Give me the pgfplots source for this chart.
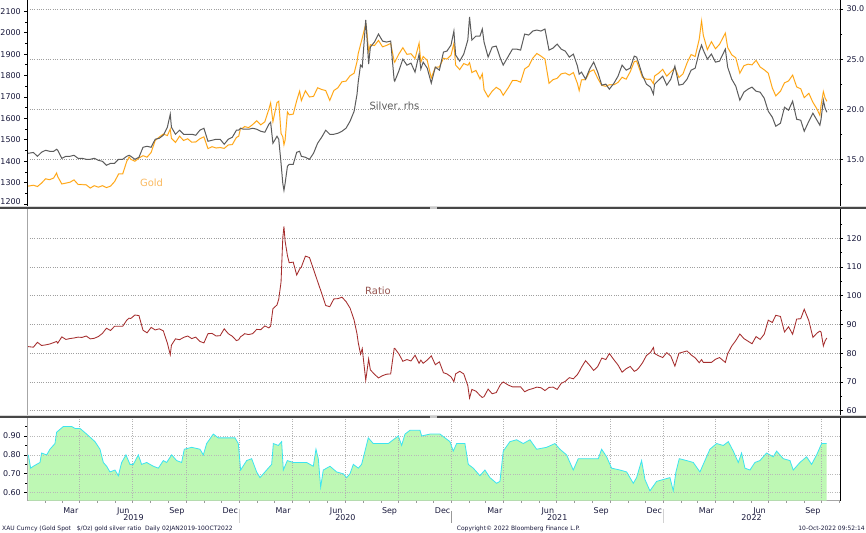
\documentclass[border=0pt]{standalone}
\usepackage{pgfplots}
\pgfplotsset{compat=1.18}
\usepackage{pgfplotstable}
\usepackage{fontspec}
\setmainfont{DejaVu Sans}
\definecolor{goldc}{RGB}{255,160,0}
\definecolor{goldl}{RGB}{255,222,170}
\definecolor{goldlab}{RGB}{250,185,95}
\definecolor{silc}{RGB}{92,92,92}
\definecolor{ratc}{RGB}{165,45,45}
\definecolor{ratlab}{RGB}{150,85,80}
\definecolor{corrl}{RGB}{60,228,240}
\definecolor{corrf}{RGB}{190,248,180}
\definecolor{tickc}{RGB}{25,25,60}
\newcommand\tickfont{\fontsize{8}{9}\selectfont}
\newcommand\labfont{\fontsize{10}{11}\selectfont}
\newcommand\footfont{\fontsize{6}{7}\selectfont}
\tikzset{gridst/.style={dash pattern=on 1bp off 1.3bp, line width=0.6bp, gray!75}}

\pgfplotstableread{
d g s r
1 1284 15.60 82.3
10 1288 15.68 82.1
17 1282 15.30 83.8
24 1298 15.70 82.7
31 1318 15.90 82.9
38 1314 15.80 83.2
45 1322 15.80 83.7
50 1345 16.00 84.1
52 1328 15.90 83.5
59 1294 15.10 85.7
66 1298 15.30 84.8
73 1302 15.30 85.1
80 1313 15.40 85.3
87 1292 15.10 85.6
94 1291 15.10 85.5
101 1290 15.00 86.0
108 1275 15.00 85.0
115 1286 15.10 85.2
122 1279 14.90 85.8
129 1286 14.80 86.9
136 1277 14.40 88.7
143 1284 14.60 87.9
150 1305 14.60 89.4
157 1341 15.00 89.4
164 1341 15.00 89.4
171 1400 15.30 91.5
175 1420 15.40 92.2
178 1409 15.30 92.1
185 1400 15.00 93.3
192 1415 15.20 93.1
199 1426 16.20 88.0
206 1419 16.30 87.1
213 1441 16.20 89.0
220 1497 17.00 88.1
227 1513 17.10 88.5
234 1527 17.40 87.8
241 1520 18.20 83.5
246 1550 19.50 79.5
248 1507 18.20 82.8
255 1488 17.50 85.0
262 1517 17.90 84.7
269 1497 17.50 85.5
276 1505 17.50 86.0
283 1489 17.50 85.1
290 1490 17.40 85.6
297 1505 17.90 84.1
304 1514 18.10 83.6
311 1459 16.80 86.8
318 1468 16.90 86.9
325 1462 17.00 86.0
332 1464 17.00 86.1
339 1460 16.50 88.5
346 1476 17.00 86.8
353 1478 17.20 85.9
360 1511 17.90 84.4
364 1517 17.90 84.7
367 1552 18.10 85.7
372 1556 18.00 86.4
374 1562 18.00 86.8
381 1557 18.00 86.5
388 1571 18.10 86.8
395 1589 18.00 88.3
402 1570 17.80 88.2
409 1584 17.70 89.5
416 1643 18.50 88.8
419 1672 18.70 89.4
423 1585 16.60 95.5
430 1674 17.30 96.8
433 1680 17.00 98.8
437 1530 14.60 104.8
440 1514 12.60 120.2
442 1477 11.90 124.1
444 1499 12.60 119.0
448 1630 14.30 114.0
451 1617 14.50 111.5
458 1620 14.50 111.7
464 1683 15.70 107.2
469 1727 15.80 109.3
472 1683 15.30 110.0
479 1729 15.20 113.8
486 1700 15.00 113.3
493 1703 15.60 109.2
500 1743 16.60 105.0
507 1735 17.20 100.9
514 1730 17.90 96.6
521 1684 17.50 96.2
528 1730 17.50 98.9
535 1743 17.60 99.0
542 1771 17.80 99.5
549 1774 18.10 98.0
556 1799 18.80 95.7
563 1811 19.80 91.5
568 1865 21.50 86.7
570 1902 22.70 83.8
574 1944 24.40 79.7
577 1975 24.20 81.6
583 2040 28.90 70.6
584 2030 28.20 72.0
588 1912 24.50 78.0
591 1944 26.20 74.2
598 1940 26.70 72.7
605 1964 27.50 71.4
612 1934 26.80 72.2
619 1941 26.70 72.7
626 1950 26.80 72.8
632 1868 22.90 81.6
633 1862 22.80 81.7
640 1900 23.80 79.8
647 1930 25.00 77.2
654 1899 24.40 77.8
661 1902 24.60 77.3
668 1879 23.70 79.3
675 1951 25.50 76.5
678 1862 24.00 77.6
682 1889 24.70 76.5
689 1871 24.10 77.6
696 1788 22.60 79.1
703 1839 24.20 76.0
710 1840 23.90 77.0
717 1881 25.70 73.2
723 1877 25.80 72.8
730 1895 26.40 71.8
735 1950 27.80 70.1
738 1849 25.40 72.8
745 1828 24.80 73.7
752 1856 25.50 72.8
759 1848 26.90 68.7
762 1860 29.20 64.4
766 1814 26.90 67.4
773 1824 27.30 66.8
780 1784 27.30 65.3
784 1808 28.00 64.6
787 1734 26.70 64.9
794 1700 25.20 67.5
801 1727 26.20 65.9
808 1745 26.30 66.3
815 1733 25.10 69.0
820 1708 24.40 70.0
829 1744 25.30 68.9
836 1777 26.00 68.3
843 1777 26.00 68.3
850 1769 25.90 68.3
857 1831 27.50 66.6
864 1844 27.40 67.3
871 1881 27.80 67.7
878 1903 27.90 68.2
885 1891 27.80 68.0
892 1877 28.00 67.0
899 1764 25.90 68.1
906 1781 26.10 68.2
913 1787 26.50 67.4
920 1808 26.00 69.5
927 1812 25.80 70.2
934 1802 25.20 71.5
941 1814 25.50 71.1
948 1763 24.30 72.6
951 1730 23.50 73.6
955 1780 23.70 75.1
962 1781 23.00 77.4
969 1818 24.00 75.8
976 1827 24.70 74.0
983 1787 23.70 75.4
990 1754 22.40 78.3
997 1750 22.50 77.8
1003 1757 22.00 79.9
1011 1757 22.60 77.7
1018 1768 23.30 75.9
1025 1792 24.40 73.4
1032 1783 23.90 74.6
1039 1818 24.10 75.4
1046 1865 25.30 73.7
1050 1868 25.20 74.1
1053 1846 24.70 74.7
1060 1792 23.40 76.6
1067 1783 22.50 79.2
1074 1783 22.20 80.3
1079 1762 21.50 82.0
1081 1798 22.50 79.9
1088 1811 22.90 79.1
1095 1829 23.30 78.5
1102 1797 22.40 80.2
1109 1817 23.00 79.0
1116 1835 24.30 75.5
1123 1791 22.40 80.0
1130 1808 22.50 80.4
1137 1859 23.00 80.8
1144 1898 23.90 79.4
1151 1889 24.10 78.4
1158 1970 25.70 76.7
1162 2055 26.40 77.8
1165 1988 25.90 76.8
1172 1921 25.00 76.8
1179 1958 25.50 76.8
1186 1925 24.70 77.9
1193 1946 24.80 78.5
1203 1998 26.00 76.8
1207 1931 24.20 79.8
1214 1897 23.00 82.5
1221 1883 22.30 84.4
1228 1811 20.90 86.7
1235 1846 21.70 85.1
1242 1853 22.00 84.2
1249 1850 22.20 83.3
1256 1871 21.80 85.8
1263 1840 21.70 84.8
1270 1827 21.10 86.6
1277 1811 19.80 91.5
1284 1742 19.20 90.7
1290 1705 18.30 93.2
1298 1727 18.60 92.8
1305 1766 20.20 87.4
1312 1775 19.90 89.2
1319 1802 20.80 86.6
1326 1747 19.00 91.9
1333 1738 18.90 92.0
1339 1697 17.80 95.3
1347 1717 18.80 91.3
1354 1675 19.60 85.5
1361 1644 18.90 87.0
1366 1614 18.40 87.7
1368 1661 19.00 87.4
1372 1725 20.90 82.5
1375 1695 20.10 84.3
1378 1680 19.70 85.3
}\maintab

\pgfplotstableread{
d c
1.3 0.80
5.3 0.73
9.9 0.74
21.4 0.76
24.2 0.81
32.9 0.80
38.6 0.83
47.2 0.86
50.1 0.92
61.6 0.95
76 0.95
81.7 0.94
90.3 0.94
101.8 0.91
116.2 0.87
124.8 0.83
130.6 0.76
136.3 0.74
142 0.71
150.7 0.72
156.4 0.69
162.2 0.76
169.6 0.80
176.5 0.75
182.3 0.75
190.9 0.80
196.6 0.75
205.3 0.76
216.8 0.74
225.4 0.73
234 0.77
239.8 0.76
248.4 0.80
257 0.77
265.6 0.76
270.2 0.83
282.9 0.84
297.2 0.83
303 0.80
308.7 0.86
320.2 0.91
328.8 0.89
343.2 0.89
357.6 0.89
363.3 0.86
367.3 0.72
377.7 0.77
386.3 0.78
394.9 0.71
400.7 0.68
409.3 0.71
415 0.73
420.8 0.75
423.7 0.86
432.3 0.85
438 0.87
440.9 0.72
447.8 0.77
458.1 0.76
469.6 0.76
481.1 0.76
492.6 0.74
497.2 0.83
501.2 0.78
505.3 0.63
509.8 0.72
521.4 0.74
532.8 0.71
544.3 0.70
550.1 0.68
555.8 0.70
561.6 0.75
570.2 0.73
575.9 0.75
581.7 0.82
587.4 0.89
596 0.86
607.6 0.86
621.9 0.86
630.5 0.88
639.2 0.90
644.9 0.85
650.7 0.91
659.3 0.93
676.5 0.93
679.4 0.90
693.7 0.91
711 0.91
728.2 0.87
733.9 0.82
739.7 0.86
754 0.86
759.8 0.75
768.4 0.73
779.9 0.69
788.5 0.72
797.1 0.68
808.6 0.65
814.4 0.66
820.1 0.82
831.6 0.87
843.1 0.88
854.6 0.86
866.1 0.88
877.6 0.83
894.8 0.84
909.2 0.86
917.8 0.83
929.3 0.80
940.8 0.72
949.4 0.78
963.8 0.78
983.9 0.78
989.7 0.83
998.3 0.79
1006.9 0.73
1021.3 0.72
1032.8 0.71
1044.3 0.65
1050 0.68
1058.6 0.77
1064.4 0.67
1073 0.61
1084.5 0.66
1096 0.67
1107.5 0.68
1113.2 0.61
1117.8 0.71
1123.6 0.78
1136.2 0.77
1147.7 0.76
1159.2 0.71
1167.8 0.77
1176.4 0.83
1187.9 0.86
1199.4 0.85
1208.1 0.87
1216.7 0.82
1225.3 0.76
1231 0.81
1236.8 0.73
1245.4 0.72
1254 0.76
1262.6 0.77
1274.1 0.81
1285.6 0.79
1291.4 0.82
1302.9 0.78
1314.4 0.77
1320.1 0.72
1331.6 0.76
1343.1 0.79
1351.7 0.75
1360.4 0.80
1369 0.86
1377.6 0.86
}\corrtab

\pgfplotsset{
  panel/.style={scale only axis, width=812.7bp, xmin=-0.5, xmax=1400.7,
    anchor=south west, tick align=outside,
    major tick length=3bp, minor tick length=2bp,
    tick style={black, line width=0.8bp},
    yticklabel style={font=\tickfont, text=tickc},
    /pgf/number format/assume math mode=true,
    axis line style={black, line width=0.8bp}},
}

\begin{document}
\begin{tikzpicture}
\path[use as bounding box] (0bp,0bp) rectangle (866bp,533bp);
\fill[white] (0bp,0bp) rectangle (866bp,533bp);

% ---------- top panel: grid + right axis (silver scale)
\begin{axis}[panel, at={(27.3bp,326bp)}, height=207bp,
  ymin=10.24, ymax=30.9, axis y line*=right, axis x line=none,
  ytick={15,20,25,30}, minor ytick={12.5,17.5,22.5,27.5},
  ymajorgrids, major grid style={gridst},
  yticklabel style={/pgf/number format/fixed, /pgf/number format/fixed zerofill, /pgf/number format/precision=1}]
\addplot[draw=none] coordinates {(0,20)};
\end{axis}
% gold, left axis
\begin{axis}[panel, at={(27.3bp,326bp)}, height=207bp,
  ymin=1186.5, ymax=2152.7, axis y line*=left, axis x line=none,
  ytick={1300,1400,1500,1600,1700,1800,1900,2000,2100},
  minor ytick={1250,1350,1450,1550,1650,1750,1850,1950,2050},
  extra y ticks={1200},
  extra y tick style={yticklabel style={yshift=2.5bp}},
  yticklabel style={/pgf/number format/1000 sep={}}]
\addplot[goldl, line width=1.3bp] table[x=d,y=g]{\maintab};
\addplot[goldc, line width=0.65bp] table[x=d,y=g]{\maintab};
\end{axis}
% silver, right scale
\begin{axis}[panel, at={(27.3bp,326bp)}, height=207bp,
  ymin=10.24, ymax=30.9, hide axis]
\addplot[silc, line width=1bp] table[x=d,y=s]{\maintab};
\end{axis}

% ---------- middle panel: ratio
\begin{axis}[panel, at={(27.3bp,118bp)}, height=206bp,
  ymin=58.5, ymax=130.2, axis y line*=right, axis x line=none,
  ytick={60,70,80,90,100,110,120}, minor ytick={65,75,85,95,105,115,125},
  ymajorgrids, major grid style={gridst}]
\addplot[ratc, line width=0.85bp] table[x=d,y=r]{\maintab};
\end{axis}

% ---------- bottom panel: correlation
\begin{axis}[panel, at={(27.3bp,32.3bp)}, height=82.7bp,
  ymin=0.558, ymax=0.995, axis y line*=left, axis x line*=bottom,
  axis line style={gray!70, line width=0.8bp},
  ytick={0.6,0.7,0.8,0.9}, minor ytick={0.65,0.75,0.85,0.95},
  yticklabel style={/pgf/number format/fixed, /pgf/number format/fixed zerofill, /pgf/number format/precision=2},
  xtick={74.5,165,257.5,349.5,440.5,532,624,715.5,805.5,897,989,1080.5,1170.5,1262,1354},
  xticklabels={Mar,Jun,Sep,Dec,Mar,Jun,Sep,Dec,Mar,Jun,Sep,Dec,Mar,Jun,Sep},
  minor xtick={31,59,90,120,151,181,212,243,273,304,334,365,396,425,456,486,517,547,578,609,639,670,700,731,762,790,821,851,882,912,943,974,1004,1035,1065,1096,1127,1155,1186,1216,1247,1277,1308,1339,1369,1400},
  major x tick style={draw=none},
  minor x tick style={gray!80, line width=0.6bp},
  xticklabel style={font=\tickfont, text=tickc, anchor=base, yshift=-9.4bp, inner sep=0pt}]
\addplot[fill=corrf, draw=none] table[x=d,y=c]{\corrtab} \closedcycle;
\pgfplotsinvokeforeach{0.6,0.7,0.8,0.9}{\draw[gridst, gray!55] (axis cs:-0.5,#1) -- (axis cs:1400.7,#1);}
\pgfplotsinvokeforeach{90,181,273,365,456,547,639,731,821,912,1004,1096,1186,1277,1369}{\draw[gridst, gray!60] (axis cs:#1,0.558) -- (axis cs:#1,0.995);}
\addplot[corrl, line width=0.8bp] table[x=d,y=c]{\corrtab};
\end{axis}

% frame lines and separators
\draw[gray!70, line width=0.8bp] (27.3bp,118bp) -- (27.3bp,324bp);
\draw[black, line width=1bp] (840bp,32.3bp) -- (840bp,533bp);
\fill[black!15] (0bp,325.5bp) rectangle (866bp,326.5bp);
\fill[black!72] (0bp,323.5bp) rectangle (866bp,325.5bp);
\fill[black!15] (0bp,117.3bp) rectangle (866bp,118.3bp);
\fill[black!72] (0bp,115.3bp) rectangle (866bp,117.3bp);
\fill[black!22] (430bp,323.5bp) rectangle (437bp,325.5bp);
\fill[black!22] (430bp,115.3bp) rectangle (437bp,117.3bp);

% in-chart labels
\node[text=goldlab, font=\labfont] at (151.5bp,350bp) {Gold};
\node[text=silc, font=\labfont] at (394.5bp,427bp) {Silver, rhs};
\node[text=ratlab, font=\labfont] at (378bp,242bp) {Ratio};

% year labels and separators
\node[font=\tickfont, text=tickc, anchor=base] at (133.5bp,12.7bp) {2019};
\node[font=\tickfont, text=tickc, anchor=base] at (345.4bp,12.7bp) {2020};
\node[font=\tickfont, text=tickc, anchor=base] at (557.2bp,12.7bp) {2021};
\node[font=\tickfont, text=tickc, anchor=base] at (751.5bp,12.7bp) {2022};
\draw[gray!35, line width=0.6bp] (239.3bp,24bp) -- (239.3bp,10bp);
\draw[gray!80, line width=0.8bp] (451.6bp,22bp) -- (451.6bp,10bp);
\draw[gray!35, line width=0.6bp] (663.3bp,24bp) -- (663.3bp,10bp);

% footer
\node[font=\footfont, anchor=base west, inner sep=0pt, text=tickc] at (2bp,2.6bp) {XAU Curncy (Gold Spot\ \ \ \$/Oz) gold silver ratio\ \ Daily 02JAN2019-10OCT2022};
\node[font=\footfont, anchor=base west, inner sep=0pt, text=tickc] at (456.7bp,2.6bp) {Copyright© 2022 Bloomberg Finance L.P.};
\node[font=\footfont, anchor=base east, inner sep=0pt, text=tickc] at (865bp,2.6bp) {10-Oct-2022 09:52:14};
\end{tikzpicture}
\end{document}
